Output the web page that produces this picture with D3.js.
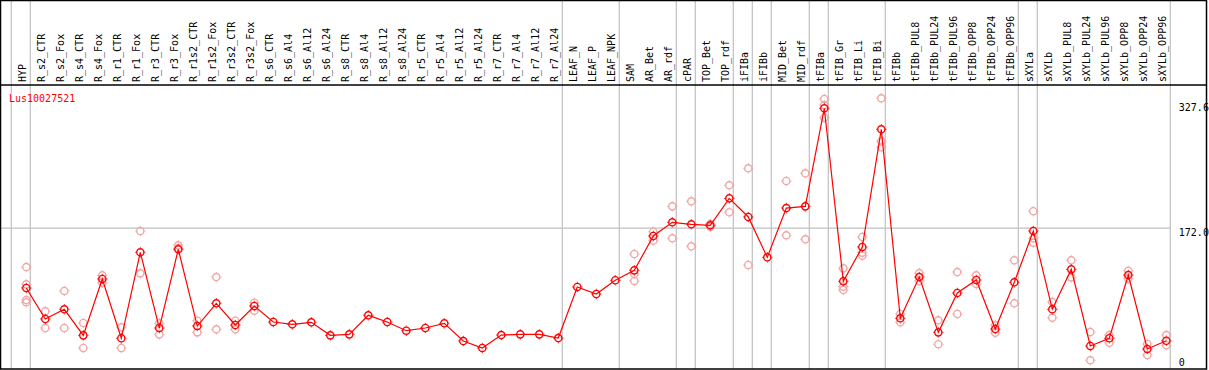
<html>
<head>
<meta charset="utf-8">
<script src="https://d3js.org/d3.v7.min.js"></script>
<style>
  body { margin: 0; background: #fff; }
  text { font-family: "DejaVu Sans Mono", monospace; font-size: 10px; }
</style>
</head>
<body>
<script>
const samples = ["HYP","R_s2_CTR","R_s2_Fox","R_s4_CTR","R_s4_Fox","R_r1_CTR","R_r1_Fox","R_r3_CTR","R_r3_Fox",
  "R_r1s2_CTR","R_r1s2_Fox","R_r3s2_CTR","R_r3s2_Fox","R_s6_CTR","R_s6_Al4","R_s6_Al12","R_s6_Al24",
  "R_s8_CTR","R_s8_Al4","R_s8_Al12","R_s8_Al24","R_r5_CTR","R_r5_Al4","R_r5_Al12","R_r5_Al24",
  "R_r7_CTR","R_r7_Al4","R_r7_Al12","R_r7_Al24","LEAF_N","LEAF_P","LEAF_NPK","SAM","AR_Bet","AR_rdf",
  "cPAR","TOP_Bet","TOP_rdf","iFIBa","iFIBb","MID_Bet","MID_rdf","tFIBa","tFIB_Gr","tFIB_Li","tFIB_Bi",
  "tFIBb","tFIBb_PUL8","tFIBb_PUL24","tFIBb_PUL96","tFIBb_OPP8","tFIBb_OPP24","tFIBb_OPP96",
  "sXYLa","sXYLb","sXYLb_PUL8","sXYLb_PUL24","sXYLb_PUL96","sXYLb_OPP8","sXYLb_OPP24","sXYLb_OPP96"];

const means = [94.3,54,66.6,32.8,106,29,140.6,42.3,144.5,44.9,
  74.4,46.2,70.9,50.1,47.1,49.7,32.8,34.1,58.8,50.1,
  38.8,42.3,48.4,25.4,16.4,33.2,34.1,34.1,29.3,95.6,
  86.5,104.3,117.2,161.8,179.6,177,175.7,210.7,186.5,134.1,
  198.1,200.3,327.6,103,147.5,300.3,54.9,108.5,36.7,87.8,
  104.7,41,101.7,168.3,66.6,118.5,19,29,111.1,15.1,25.8];

const replicates = [
  [121.5,99,78.7,75.7],[64,42.3],[90.4,42.3],[48.8,16.4],[110.7,101.2],[43.2,16.4],[168.3,113.3],
  [48.4,34.1],[149.7,146],[51.8,36.7],[108.5,40.6],[51.8,40.6],[75.2,64.8],
  [],[],[],[],[],[],[],[],[],[],[],[],[],[],[],[],[],[],[],
  [138.4,112.4,103.4],[167.4,155.7],[200.3,158.8],[206.8,148.4],[173.9,177.5],[227.6,192.6],
  [249.7,124.1],[],[233.2,162.7],[243.2,157.5],[339.7,331.9,315.4],[119.8,96,91.7],
  [160.5,140.1,136.2],[340.6,284.7,277],[60.5,49.7],[113.7,103.4],[52.3,21.2],[115,60.5],
  [110.7,99.5],[45.8,36.2],[130.2,74.4],[193.9,158.8,153.1],[76.1,55.7],[130.2,108.1],
  [37.1,0.4],[33.2,23.2],[116.7,106.3],[21.6,7.3],[33.2,19.9]];

// first sample of each group (a grey separator is drawn on its left)
const groupStarts = ["HYP","R_s2_CTR","LEAF_N","SAM","cPAR","TOP_Bet","iFIBa","iFIBb","MID_Bet",
  "tFIBa","tFIB_Gr","tFIBb","sXYLa","sXYLb"];

const tickValues = [0, 172.0, 327.6];
const tickLabels = ["0", "172.0", "327.6"];
const geneName = "Lus10027521";

const W = 1209, H = 370;
const left = 11.3, right = 1170.3, headerY = 85, bottom = 369;

const svg = d3.select("body").append("svg")
  .attr("width", W).attr("height", H);

const x = d3.scaleBand().domain(samples).range([left, right]);
const px = d => x(d) + 15;
const y = d3.scaleLinear().domain([0, 327.6]).range([360.6, 108.3]);

// separators
svg.selectAll("line.sep")
  .data(groupStarts.map(g => x(g)).concat([right]))
  .enter().append("line")
  .attr("x1", d => d).attr("x2", d => d)
  .attr("y1", 0).attr("y2", bottom)
  .attr("stroke", "#c0c0c0").attr("stroke-width", 1.2);

// grid line
svg.append("line")
  .attr("x1", 1).attr("x2", right)
  .attr("y1", y(172.0)).attr("y2", y(172.0))
  .attr("stroke", "#c0c0c0").attr("stroke-width", 1.2);

// frame
svg.append("rect").attr("x", 0.5).attr("y", 0.5).attr("width", 1206).attr("height", bottom - 0.5)
  .attr("fill", "none").attr("stroke", "#000").attr("stroke-width", 1.5);
svg.append("line").attr("x1", 0).attr("x2", 1207).attr("y1", headerY).attr("y2", headerY)
  .attr("stroke", "#000").attr("stroke-width", 1.5);

// header labels
svg.selectAll("text.lab").data(samples).enter().append("text")
  .attr("transform", d => "translate(" + px(d) + "," + 82 + ") rotate(-90)")
  .attr("fill", "#000")
  .text(d => d);

svg.append("text").attr("x", 9).attr("y", 102).attr("fill", "red").text(geneName);

// right axis
const labelShift = [4.4, 7.5, 2.4];
const axis = svg.append("g").attr("transform", "translate(" + right + ",0)")
  .call(d3.axisRight(y).tickValues(tickValues).tickSize(0).tickFormat((d, i) => tickLabels[i]));
axis.select(".domain").remove();
axis.selectAll("text")
  .attr("x", 8.5).attr("dy", null)
  .attr("y", (d, i) => labelShift[i])
  .attr("font-family", "DejaVu Sans Mono").attr("font-size", 10)
  .attr("fill", "#000");

function marker(g, color) {
  g.append("circle").attr("r", 3.6).attr("fill", "none").attr("stroke", color).attr("stroke-width", 1.4);
  [[0,-4,0,-5.2],[0,4,0,5.2],[-4,0,-5.2,0],[4,0,5.2,0]].forEach(t => {
    g.append("line").attr("x1", t[0]).attr("y1", t[1]).attr("x2", t[2]).attr("y2", t[3])
      .attr("stroke", color).attr("stroke-width", 0.9);
  });
}

// replicates
const reps = [];
samples.forEach((s, i) => replicates[i].forEach(v => reps.push([s, v])));
svg.selectAll("g.rep").data(reps).enter().append("g")
  .attr("transform", d => "translate(" + px(d[0]) + "," + y(d[1]) + ")")
  .each(function() { marker(d3.select(this), "#f2a6a6"); });

// mean line
const line = d3.line().x((d, i) => px(samples[i])).y(d => y(d));
svg.append("path").datum(means).attr("d", line)
  .attr("fill", "none").attr("stroke", "red").attr("stroke-width", 1.2);

svg.selectAll("g.mean").data(means).enter().append("g")
  .attr("transform", (d, i) => "translate(" + px(samples[i]) + "," + y(d) + ")")
  .each(function() { marker(d3.select(this), "red"); });
</script>
</body>
</html>
